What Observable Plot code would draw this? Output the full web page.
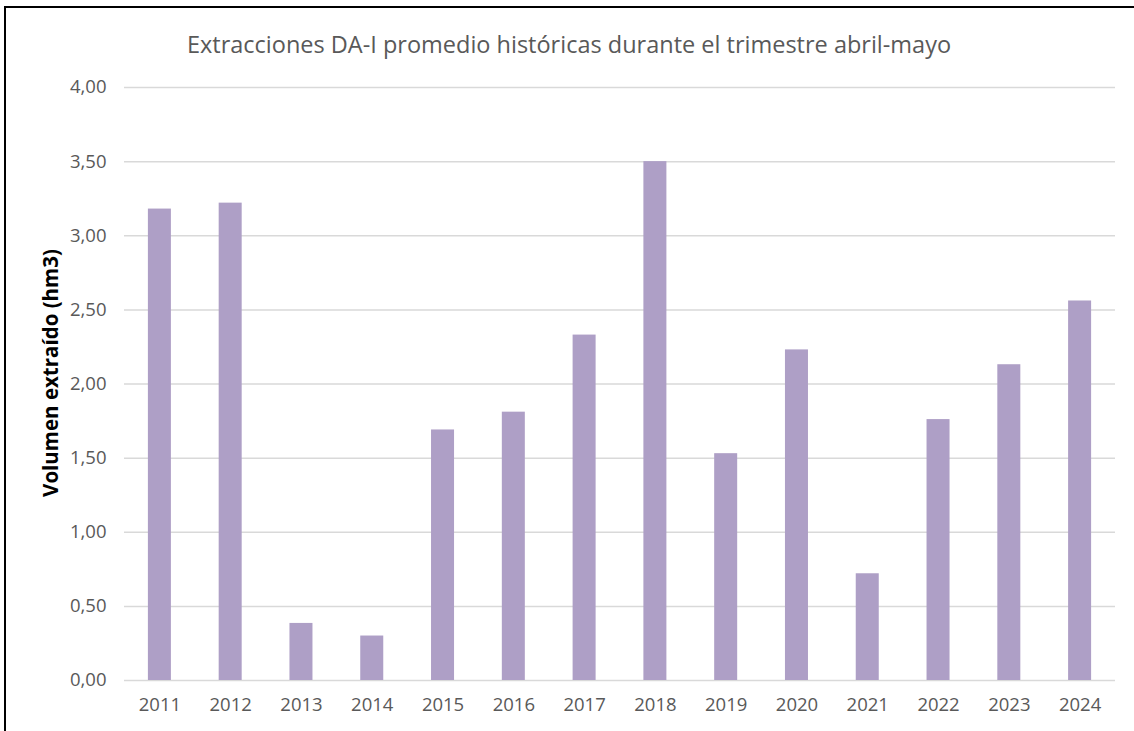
<!DOCTYPE html>
<html>
<head>
<meta charset="utf-8">
<script src="https://cdn.jsdelivr.net/npm/d3@7"></script>
<script src="https://cdn.jsdelivr.net/npm/@observablehq/plot@0.6"></script>
<style>
  html, body { margin: 0; padding: 0; background: #fff; }
  #wrap { position: relative; width: 1134px; height: 731px; overflow: hidden; font-family: "Open Sans", sans-serif; }
  #frame { position: absolute; left: 4px; top: 6px; width: 1140px; height: 740px; border-left: 2px solid #000; border-top: 2px solid #000; box-sizing: border-box; }
  #title { position: absolute; left: 2px; top: 28px; width: 1134px; text-align: center; font-size: 23.5px; color: #595959; line-height: 32px; }
  #chart { position: absolute; left: 0; top: 0; }
</style>
</head>
<body>
<div id="wrap">
  <div id="frame"></div>
  <div id="chart"></div>
  <div id="title">Extracciones DA-I promedio históricas durante el trimestre abril-mayo</div>
</div>
<script>
const years = ["2011","2012","2013","2014","2015","2016","2017","2018","2019","2020","2021","2022","2023","2024"];
const values = [3.18, 3.22, 0.385, 0.30, 1.69, 1.81, 2.33, 3.50, 1.53, 2.23, 0.72, 1.76, 2.13, 2.56];
const yTicks = [0, 0.5, 1, 1.5, 2, 2.5, 3, 3.5, 4];
const yLabel = "Volumen extraído (hm3)";

const data = years.map((y, i) => ({year: y, value: values[i]}));
const fmt = v => v.toFixed(2).replace(".", ",");

const chart = Plot.plot({
  width: 1134,
  height: 731,
  marginLeft: 124,
  marginRight: 19,
  marginTop: 87,
  marginBottom: 51,
  style: {fontFamily: "'Open Sans', sans-serif", fontSize: "18px", color: "#595959", background: "transparent"},
  x: {domain: years, paddingInner: 0.675, paddingOuter: 0.3375, round: false, label: null},
  y: {domain: [0, 4], label: null},
  marks: [
    Plot.ruleY(yTicks, {stroke: "#d9d9d9", strokeWidth: 1.5}),
    Plot.barY(data, {x: "year", y: "value", fill: "#ae9fc6"}),
    Plot.axisY({ticks: yTicks, tickFormat: fmt, tickSize: 0, tickPadding: 18, fill: "#595959", fontSize: 18.5}),
    Plot.axisX({tickSize: 0, tickPadding: 17, fill: "#595959", fontSize: 18.5}),
    Plot.text([yLabel], {frameAnchor: "left", dx: -73, dy: -11, rotate: -90, textAnchor: "middle", fill: "#000", fontWeight: "bold", fontSize: 20.5})
  ]
});
document.getElementById("chart").appendChild(chart);
</script>
</body>
</html>
